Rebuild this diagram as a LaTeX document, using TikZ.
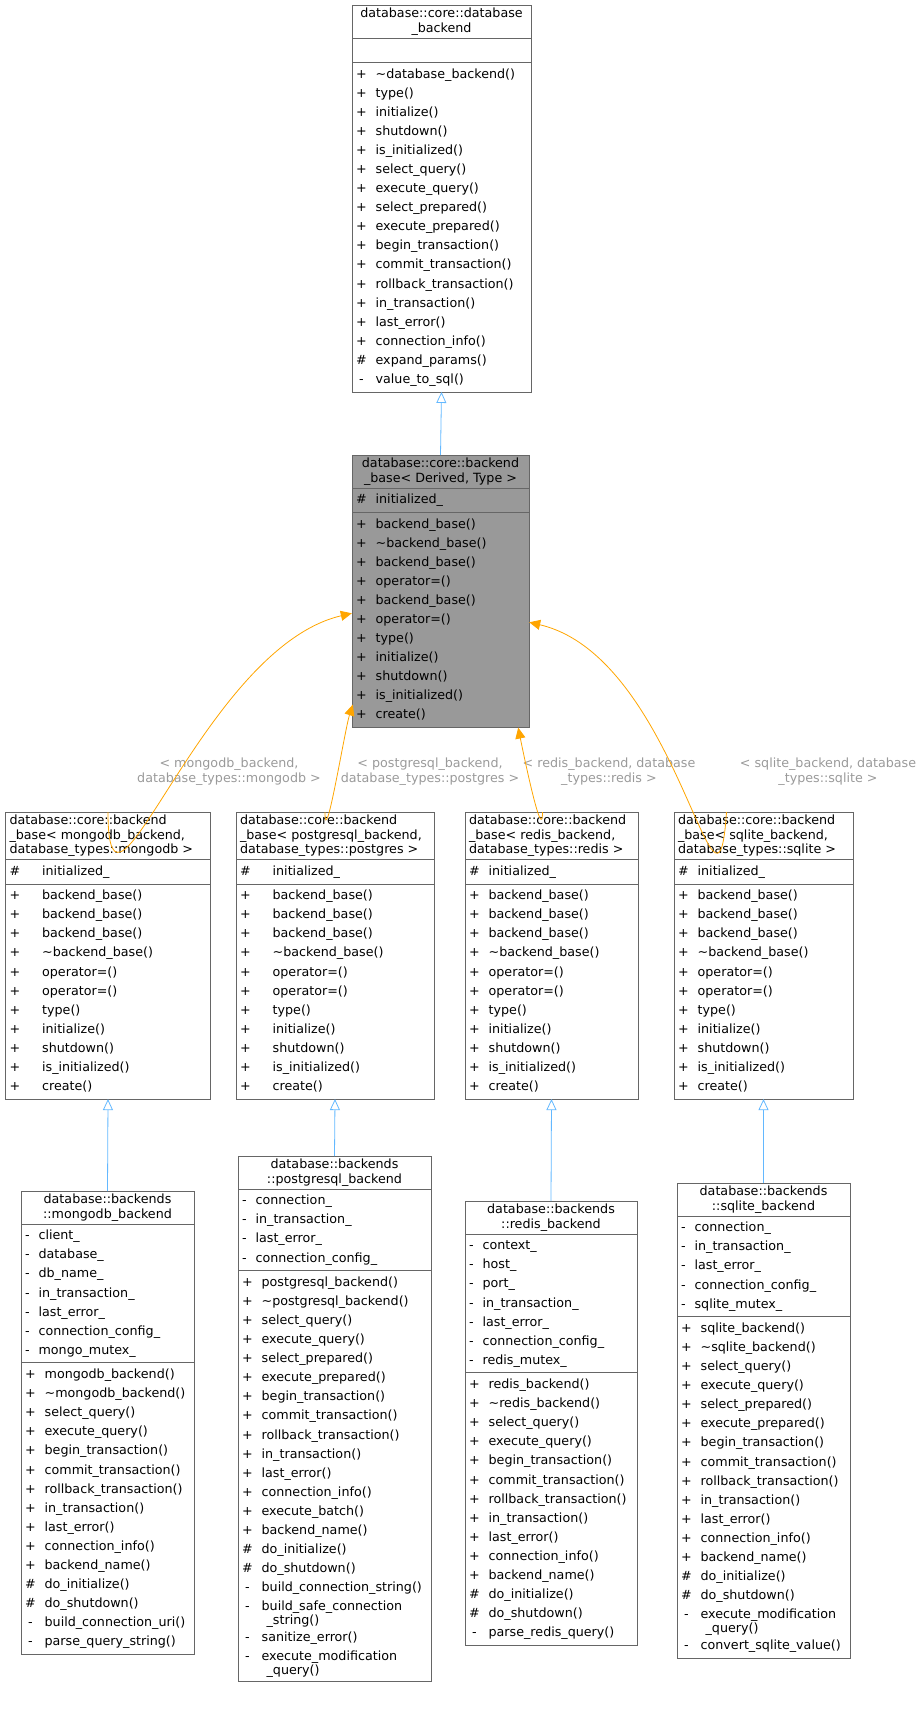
\documentclass[tikz,border=0pt]{standalone}
\usepackage{fontspec}
\setmainfont{DejaVu Sans}
\usetikzlibrary{arrows.meta,shapes.multipart}

\definecolor{boxline}{HTML}{666666}
\definecolor{basefill}{HTML}{999999}
\definecolor{inhblue}{HTML}{63B8FF}
\definecolor{tmplorange}{HTML}{FFA500}
\definecolor{lblgray}{HTML}{9A9A9A}

\newcommand{\mlist}[1]{{\renewcommand{\arraystretch}{1.315}\begin{tabular}{@{}c@{\hspace{9pt}}l@{}}#1\end{tabular}}}
\newcommand{\wlist}[1]{{\renewcommand{\arraystretch}{1.315}\begin{tabular}{@{}c@{\hspace{22pt}}l@{}}#1\end{tabular}}}
\newcommand{\wrapitem}[2]{{\renewcommand{\arraystretch}{0.95}\begin{tabular}[t]{@{}l@{}}#1\\\hspace{5pt}#2\end{tabular}}}
\newcommand{\tildename}{\textasciitilde}

\tikzset{
  cls/.style={rectangle split, rectangle split parts=3, draw=boxline, fill=white,
    anchor=north, rectangle split part align={center,left,left}, align=center,
    font=\fontsize{12.7}{14.5}\selectfont, inner xsep=4pt, inner ysep=2.5pt},
  inst/.style={cls, align=left, rectangle split part align={left,left,left}},
  inherit/.style={draw=inhblue, line width=0.8pt, -{Triangle[open,length=11pt,width=10pt]}},
  tmpl/.style={draw=tmplorange, line width=0.8pt, -{Triangle[length=11pt,width=10pt]}},
  tlabel/.style={text=lblgray, font=\fontsize{12.7}{15}\selectfont, align=center}
}

\begin{document}
\catcode`\_=12
\begin{tikzpicture}[x=1pt,y=1pt]
\useasboundingbox (0,0) rectangle (923,-1711);

% interface
\node[cls,minimum width=179] (DBB) at (441.5,-5)
  {database::core::database\\_backend
   \nodepart{two}\mlist{&}
   \nodepart{three}\mlist{+ & \tildename database_backend()\\+ & type()\\+ & initialize()\\+ & shutdown()\\
   + & is_initialized()\\+ & select_query()\\+ & execute_query()\\+ & select_prepared()\\
   + & execute_prepared()\\+ & begin_transaction()\\+ & commit_transaction()\\+ & rollback_transaction()\\
   + & in_transaction()\\+ & last_error()\\+ & connection_info()\\\# & expand_params()\\- & value_to_sql()}};

% template base
\node[cls,minimum width=177,fill=basefill] (BASE) at (440.5,-455)
  {database::core::backend\\_base< Derived, Type >
   \nodepart{two}\mlist{\# & initialized_}
   \nodepart{three}\mlist{+ & backend_base()\\+ & \tildename backend_base()\\+ & backend_base()\\+ & operator=()\\
   + & backend_base()\\+ & operator=()\\+ & type()\\+ & initialize()\\+ & shutdown()\\+ & is_initialized()\\+ & create()}};

% instantiations
\newcommand{\instmembers}[1]{#1{+ & backend_base()\\+ & backend_base()\\+ & backend_base()\\+ & \tildename backend_base()\\
   + & operator=()\\+ & operator=()\\+ & type()\\+ & initialize()\\+ & shutdown()\\+ & is_initialized()\\+ & create()}}
\node[inst,minimum width=205] (MONGOT) at (108,-812)
  {database::core::backend\\_base< mongodb_backend,\\ database_types::mongodb >
   \nodepart{two}\wlist{\# & initialized_}
   \nodepart{three}\instmembers\wlist};
\node[inst,minimum width=198] (PGT) at (335,-812)
  {database::core::backend\\_base< postgresql_backend,\\ database_types::postgres >
   \nodepart{two}\wlist{\# & initialized_}
   \nodepart{three}\instmembers\wlist};
\node[inst,minimum width=173] (REDIST) at (551.5,-812)
  {database::core::backend\\_base< redis_backend,\\ database_types::redis >
   \nodepart{two}\mlist{\# & initialized_}
   \nodepart{three}\instmembers\mlist};
\node[inst,minimum width=179] (SQLITET) at (763.5,-812)
  {database::core::backend\\_base< sqlite_backend,\\ database_types::sqlite >
   \nodepart{two}\mlist{\# & initialized_}
   \nodepart{three}\instmembers\mlist};

% concrete backends
\node[cls,minimum width=173] (MONGO) at (107.5,-1191)
  {database::backends\\::mongodb_backend
   \nodepart{two}\mlist{- & client_\\- & database_\\- & db_name_\\- & in_transaction_\\- & last_error_\\- & connection_config_\\- & mongo_mutex_}
   \nodepart{three}\mlist{+ & mongodb_backend()\\+ & \tildename mongodb_backend()\\+ & select_query()\\+ & execute_query()\\
   + & begin_transaction()\\+ & commit_transaction()\\+ & rollback_transaction()\\+ & in_transaction()\\
   + & last_error()\\+ & connection_info()\\+ & backend_name()\\\# & do_initialize()\\\# & do_shutdown()\\
   - & build_connection_uri()\\- & parse_query_string()}};
\node[cls,minimum width=193] (PG) at (334.5,-1156)
  {database::backends\\::postgresql_backend
   \nodepart{two}\mlist{- & connection_\\- & in_transaction_\\- & last_error_\\- & connection_config_}
   \nodepart{three}\mlist{+ & postgresql_backend()\\+ & \tildename postgresql_backend()\\+ & select_query()\\+ & execute_query()\\
   + & select_prepared()\\+ & execute_prepared()\\+ & begin_transaction()\\+ & commit_transaction()\\
   + & rollback_transaction()\\+ & in_transaction()\\+ & last_error()\\+ & connection_info()\\
   + & execute_batch()\\+ & backend_name()\\\# & do_initialize()\\\# & do_shutdown()\\
   - & build_connection_string()\\- & \wrapitem{build_safe_connection}{_string()}\\- & sanitize_error()\\
   - & \wrapitem{execute_modification}{_query()}}};
\node[cls,minimum width=172] (REDIS) at (551,-1201)
  {database::backends\\::redis_backend
   \nodepart{two}\mlist{- & context_\\- & host_\\- & port_\\- & in_transaction_\\- & last_error_\\- & connection_config_\\- & redis_mutex_}
   \nodepart{three}\mlist{+ & redis_backend()\\+ & \tildename redis_backend()\\+ & select_query()\\+ & execute_query()\\
   + & begin_transaction()\\+ & commit_transaction()\\+ & rollback_transaction()\\+ & in_transaction()\\
   + & last_error()\\+ & connection_info()\\+ & backend_name()\\\# & do_initialize()\\\# & do_shutdown()\\
   - & parse_redis_query()}};
\node[cls,minimum width=173] (SQLITE) at (763.5,-1183)
  {database::backends\\::sqlite_backend
   \nodepart{two}\mlist{- & connection_\\- & in_transaction_\\- & last_error_\\- & connection_config_\\- & sqlite_mutex_}
   \nodepart{three}\mlist{+ & sqlite_backend()\\+ & \tildename sqlite_backend()\\+ & select_query()\\+ & execute_query()\\
   + & select_prepared()\\+ & execute_prepared()\\+ & begin_transaction()\\+ & commit_transaction()\\
   + & rollback_transaction()\\+ & in_transaction()\\+ & last_error()\\+ & connection_info()\\
   + & backend_name()\\\# & do_initialize()\\\# & do_shutdown()\\
   - & \wrapitem{execute_modification}{_query()}\\- & convert_sqlite_value()}};

% template argument labels
\node[tlabel] (LMONGO)  at (229,-772) {< mongodb_backend,\\database_types::mongodb >};
\node[tlabel] (LPG)     at (430,-772) {< postgresql_backend,\\database_types::postgres >};
\node[tlabel] (LREDIS)  at (609,-772) {< redis_backend, database\\_types::redis >};
\node[tlabel] (LSQLITE) at (828,-772) {< sqlite_backend, database\\_types::sqlite >};

\draw[inherit] (BASE.north) -- (DBB.south);
\draw[tmpl] (MONGOT.north) .. controls +(0,-150) and +(-150,-35) .. ([yshift=-22]BASE.west);
\draw[tmpl] ([xshift=-10]PGT.north) .. controls +(0,-40) and +(-8,-25) .. ([shift={(1,23)}]BASE.south west);
\draw[tmpl] ([xshift=-9]REDIST.north) .. controls +(0,-35) and +(4,-20) .. ([xshift=-11]BASE.south east);
\draw[tmpl] ([xshift=-37]SQLITET.north) .. controls +(-10,-150) and +(150,-35) .. ([yshift=-31]BASE.east);
\draw[inherit] (MONGO.north) -- (MONGOT.south);
\draw[inherit] (PG.north) -- (PGT.south);
\draw[inherit] (REDIS.north) -- (REDIST.south);
\draw[inherit] (SQLITE.north) -- (SQLITET.south);
\end{tikzpicture}
\end{document}
